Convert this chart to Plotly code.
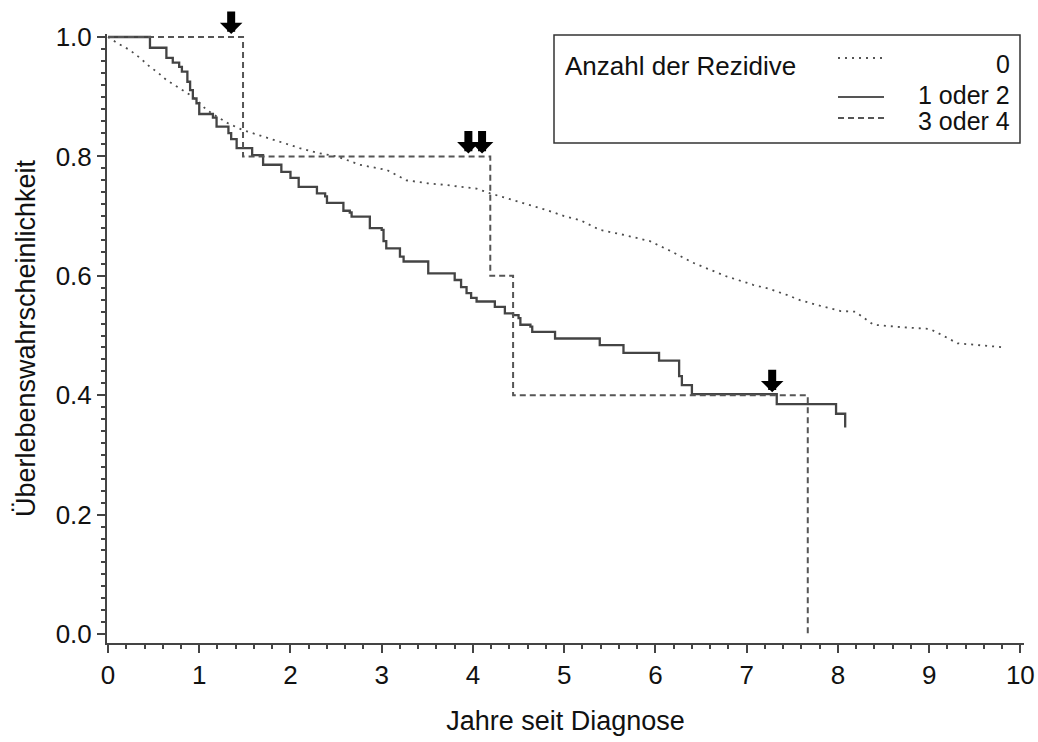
import plotly.graph_objects as go

# ---------------- data ----------------
# Rezidive 0 (dotted)
x_r0 = [0, 0.10, 0.24, 0.35, 0.46, 0.55, 0.64, 0.77, 0.90, 1.00, 1.08, 1.20, 1.32, 1.48,
        1.70, 1.92, 2.10, 2.29, 2.51, 2.76, 3.06, 3.27, 3.50, 3.71, 4.04, 4.19, 4.44,
        4.60, 4.81, 5.00, 5.18, 5.39, 5.67, 5.94, 6.16, 6.41, 6.60, 6.78, 7.07, 7.25,
        7.44, 7.59, 7.80, 8.03, 8.19, 8.39, 8.70, 9.01, 9.15, 9.31, 9.84]
y_r0 = [1.0, 0.990, 0.978, 0.965, 0.950, 0.940, 0.928, 0.915, 0.903, 0.890, 0.878, 0.866,
        0.855, 0.844, 0.833, 0.822, 0.814, 0.806, 0.800, 0.786, 0.777, 0.760, 0.755, 0.752,
        0.746, 0.738, 0.727, 0.719, 0.710, 0.700, 0.693, 0.677, 0.668, 0.658, 0.642, 0.622,
        0.610, 0.599, 0.585, 0.578, 0.568, 0.559, 0.550, 0.541, 0.540, 0.518, 0.514, 0.511,
        0.500, 0.487, 0.480]

# Rezidive 1 oder 2 (solid)
x_r12 = [0, 0.46, 0.64, 0.71, 0.78, 0.81, 0.87, 0.90, 0.93, 0.97, 1.00, 1.15, 1.19, 1.32,
         1.35, 1.41, 1.58, 1.70, 1.90, 2.00, 2.09, 2.29, 2.38, 2.40, 2.58, 2.65, 2.67, 2.87,
         3.00, 3.02, 3.05, 3.20, 3.24, 3.51, 3.80, 3.87, 3.93, 3.98, 4.04, 4.24, 4.35, 4.44,
         4.50, 4.52, 4.63, 4.65, 4.90, 5.39, 5.65, 6.04, 6.26, 6.29, 6.40, 7.33, 7.98, 8.08]
y_r12 = [1.0, 0.982, 0.965, 0.957, 0.950, 0.942, 0.925, 0.911, 0.897, 0.889, 0.871, 0.865,
         0.850, 0.839, 0.829, 0.814, 0.802, 0.786, 0.774, 0.764, 0.749, 0.738, 0.733, 0.722,
         0.709, 0.706, 0.699, 0.680, 0.677, 0.658, 0.646, 0.632, 0.624, 0.604, 0.593, 0.581,
         0.571, 0.563, 0.557, 0.548, 0.537, 0.534, 0.529, 0.518, 0.515, 0.506, 0.495, 0.484,
         0.471, 0.458, 0.432, 0.417, 0.402, 0.385, 0.369, 0.346]

# Rezidive 3 oder 4 (dashed)
x_r34 = [0, 1.48, 4.19, 4.44, 7.67]
y_r34 = [1.0, 0.8, 0.6, 0.4, 0.0]

# censored observations in group 3 oder 4 (arrows)
cens_x = [1.35, 3.95, 4.10, 7.28]
cens_y = [1.0, 0.8, 0.8, 0.4]

x_ticks = [0, 1, 2, 3, 4, 5, 6, 7, 8, 9, 10]
y_ticks = [0.0, 0.2, 0.4, 0.6, 0.8, 1.0]

legend_title = "Anzahl der Rezidive"
legend_labels = ["0", "1 oder 2", "3 oder 4"]
legend_dashes = ["2px,5px", "solid", "6px,4px"]

# ---------------- figure ----------------
W, H = 1038, 742
ML, MR, MT, MB = 107, 14, 34, 99
FONT = "Liberation Sans, Arial, sans-serif"
LINE_COL = "#444444"
TXT = "#111111"


def px2paper_x(px):
    return (px - ML) / (W - ML - MR)


def px2paper_y(py):
    return (H - MB - py) / (H - MT - MB)


fig = go.Figure()
fig.add_trace(go.Scatter(x=x_r0, y=y_r0, mode="lines", line_shape="linear",
                         line=dict(color="#4d4d4d", width=1.8, dash=legend_dashes[0]),
                         name=legend_labels[0], showlegend=False))
fig.add_trace(go.Scatter(x=x_r12, y=y_r12, mode="lines", line_shape="hv",
                         line=dict(color=LINE_COL, width=2.3, dash=legend_dashes[1]),
                         name=legend_labels[1], showlegend=False))
fig.add_trace(go.Scatter(x=x_r34, y=y_r34, mode="lines", line_shape="hv",
                         line=dict(color="#555555", width=2, dash=legend_dashes[2]),
                         name=legend_labels[2], showlegend=False))

annotations = []
for cx, cy in zip(cens_x, cens_y):
    annotations.append(dict(x=cx, y=cy, xref="x", yref="y", ax=0, ay=-27,
                            showarrow=True, arrowhead=1, arrowsize=0.47, arrowwidth=8,
                            arrowcolor="black", standoff=3, text=""))

# manual legend
box_l, box_r, box_t, box_b = 554, 1020, 35, 143
shapes = [dict(type="rect", xref="paper", yref="paper",
               x0=px2paper_x(box_l), x1=px2paper_x(box_r),
               y0=px2paper_y(box_b), y1=px2paper_y(box_t),
               line=dict(color="#333333", width=1.5), fillcolor="white")]
annotations.append(dict(x=px2paper_x(563), y=px2paper_y(66), xref="paper", yref="paper",
                        text=legend_title, showarrow=False, xanchor="left", yanchor="middle",
                        font=dict(size=26, color=TXT, family=FONT)))
row_y = [64, 95, 121]
sample_y = [58, 97, 118]
for i, lab in enumerate(legend_labels):
    annotations.append(dict(x=px2paper_x(1012), y=px2paper_y(row_y[i]), xref="paper",
                            yref="paper", text=lab, showarrow=False, xanchor="right",
                            yanchor="middle",
                            font=dict(size=25, color=TXT, family=FONT)))
    shapes.append(dict(type="line", xref="paper", yref="paper",
                       x0=px2paper_x(838), x1=px2paper_x(884),
                       y0=px2paper_y(sample_y[i]), y1=px2paper_y(sample_y[i]),
                       line=dict(color="#555555", width=1.8 if i != 1 else 2.2,
                                 dash=legend_dashes[i])))

axis_common = dict(showgrid=False, zeroline=False, showline=True, linecolor="#444444",
                   linewidth=2, ticks="outside", ticklen=8, tickwidth=1.5,
                   tickcolor="#444444", tickfont=dict(size=26, color=TXT, family=FONT),
                   mirror=False)

fig.update_layout(
    width=W, height=H,
    margin=dict(l=ML, r=MR, t=MT, b=MB, autoexpand=False),
    paper_bgcolor="white", plot_bgcolor="white",
    font=dict(family=FONT, size=26, color=TXT),
    xaxis=dict(range=[-0.011, 10.04], tickvals=x_ticks,
               ticktext=[str(v) for v in x_ticks],
               title=dict(text="Jahre seit Diagnose", standoff=22,
                          font=dict(size=27, family=FONT, color=TXT)),
               minor=dict(dtick=0.2, ticklen=4, tickcolor="#444444", ticks="outside"),
               **axis_common),
    yaxis=dict(range=[-0.015, 1.005], tickvals=y_ticks,
               ticktext=[f"{v:.1f}" for v in y_ticks],
               title=dict(text="Überlebenswahrscheinlichkeit", standoff=12,
                          font=dict(size=27, family=FONT, color=TXT)),
               minor=dict(dtick=0.02, ticklen=4, tickcolor="#444444", ticks="outside"),
               **axis_common),
    shapes=shapes,
    annotations=annotations,
)

fig.write_html(
    "out.html",
    config={"displayModeBar": False},
    post_script="document.body.style.margin='0';document.body.style.overflow='hidden';",
)
